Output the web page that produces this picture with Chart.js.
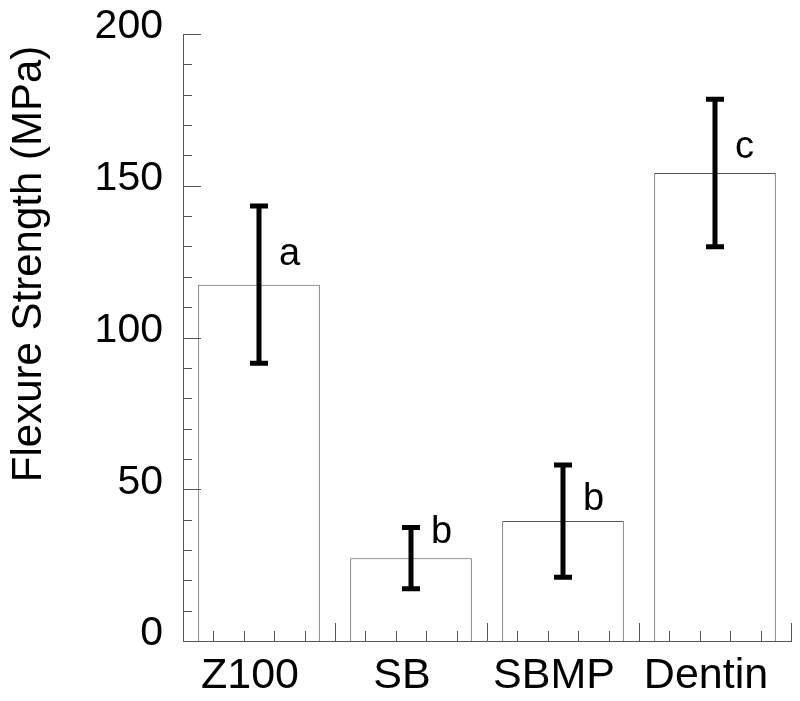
<!DOCTYPE html>
<html>
<head>
<meta charset="utf-8">
<script src="https://cdn.jsdelivr.net/npm/chart.js@4"></script>
<style>
  html, body { margin: 0; padding: 0; background: #fff; }
  #wrap { width: 800px; height: 701px; }
</style>
</head>
<body>
<div id="wrap"><canvas id="myChart"></canvas></div>
<script>
const categories = ['Z100', 'SB', 'SBMP', 'Dentin'];
const means = [117.4, 27.3, 39.5, 154.2];
const errors = [25.9, 10.1, 18.5, 24.3];
const groupLetters = ['a', 'b', 'b', 'c'];
const letterY = [124, 32.3, 43.2, 159.1];
const yTicks = [0, 50, 100, 150, 200];

const axisc = '#555';

// error bars and the significance letters
const errorBars = {
  id: 'errorBars',
  afterDatasetsDraw(chart) {
    const ctx = chart.ctx;
    const y = chart.scales.y;
    const bars = chart.getDatasetMeta(0).data;
    ctx.save();
    ctx.strokeStyle = '#000';
    ctx.lineWidth = 5;
    ctx.lineCap = 'butt';
    bars.forEach(function (bar, i) {
      const top = y.getPixelForValue(means[i] + errors[i]);
      const bot = y.getPixelForValue(means[i] - errors[i]);
      ctx.beginPath();
      ctx.moveTo(bar.x, top);
      ctx.lineTo(bar.x, bot);
      ctx.moveTo(bar.x - 9, top);
      ctx.lineTo(bar.x + 9, top);
      ctx.moveTo(bar.x - 9, bot);
      ctx.lineTo(bar.x + 9, bot);
      ctx.stroke();
      ctx.fillStyle = '#000';
      ctx.font = '38px "Liberation Sans", Arial, sans-serif';
      ctx.textAlign = 'left';
      ctx.textBaseline = 'alphabetic';
      ctx.fillText(groupLetters[i], bar.x + 20, y.getPixelForValue(letterY[i]));
    });
    ctx.restore();
  }
};

// inward tick marks on both axes
const innerTicks = {
  id: 'innerTicks',
  afterDraw(chart) {
    const ctx = chart.ctx;
    const ys = chart.scales.y;
    const a = chart.chartArea;
    ctx.save();
    ctx.strokeStyle = axisc;
    ctx.lineWidth = 1;
    ctx.beginPath();
    const step = (a.right - a.left) / 20;
    for (let k = 1; k <= 20; k++) {
      const px = Math.round(a.left + k * step) + 0.5;
      const len = k % 5 === 0 ? 18 : 10;
      ctx.moveTo(px, a.bottom);
      ctx.lineTo(px, a.bottom - len);
    }
    for (let v = 10; v <= 200; v += 10) {
      const py = Math.round(ys.getPixelForValue(v)) + 0.5;
      const len = v % 50 === 0 ? 18 : 9;
      ctx.moveTo(a.left, py);
      ctx.lineTo(a.left + len, py);
    }
    ctx.stroke();
    ctx.restore();
  }
};

new Chart(document.getElementById('myChart'), {
  type: 'bar',
  data: {
    labels: categories,
    datasets: [{
      data: means,
      backgroundColor: '#fff',
      borderColor: axisc,
      borderWidth: 1,
      barPercentage: 1,
      categoryPercentage: 0.8
    }]
  },
  options: {
    responsive: true,
    maintainAspectRatio: false,
    animation: false,
    layout: { padding: { top: 34, right: 9, left: 0, bottom: 0 } },
    scales: {
      x: {
        grid: { display: false, drawTicks: false },
        border: { display: true, color: axisc, width: 1 },
        ticks: {
          color: '#000',
          padding: 9,
          labelOffset: -9,
          font: { family: '"Liberation Sans", Arial, sans-serif', size: 43 }
        },
        afterFit: function (scale) {
          scale.height = 60;
          scale.paddingLeft = 0;
          scale.paddingRight = 0;
        }
      },
      y: {
        min: 0,
        max: 200,
        afterBuildTicks: function (scale) {
          scale.ticks = yTicks.map(v => ({ value: v }));
        },
        grid: { display: false, drawTicks: false },
        border: { display: true, color: axisc, width: 1 },
        ticks: {
          color: '#000',
          padding: 20,
          labelOffset: -7,
          font: { family: '"Liberation Sans", Arial, sans-serif', size: 41 }
        },
        title: {
          display: true,
          text: 'Flexure Strength (MPa) ',
          align: 'end',
          color: '#000',
          padding: { top: 4, bottom: 0 },
          font: { family: '"Liberation Sans", Arial, sans-serif', size: 42 }
        },
        afterFit: function (scale) {
          scale.width = 183;
          scale.paddingTop = 0;
          scale.paddingBottom = 0;
        }
      }
    },
    plugins: {
      legend: { display: false },
      tooltip: { enabled: false }
    }
  },
  plugins: [errorBars, innerTicks]
});
</script>
</body>
</html>
